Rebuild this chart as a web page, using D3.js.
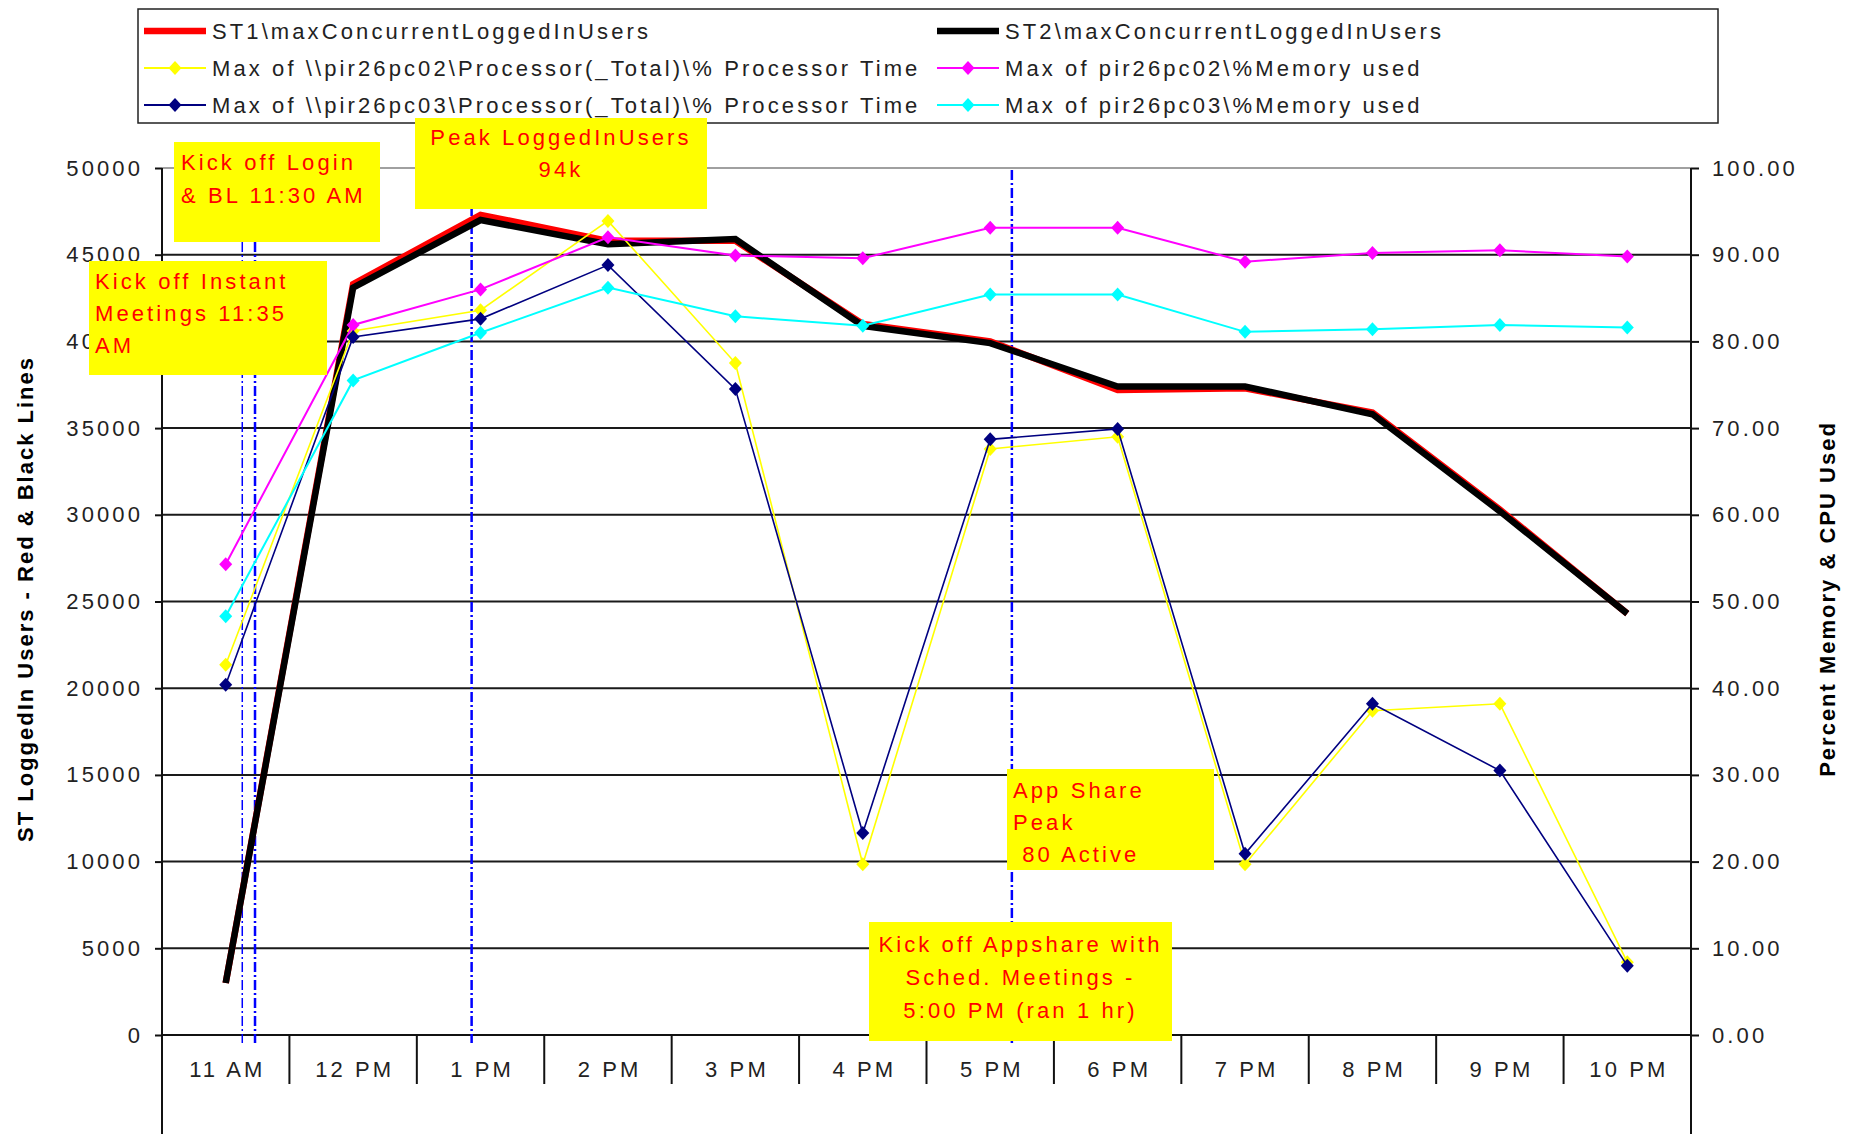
<!DOCTYPE html>
<html>
<head>
<meta charset="utf-8">
<script src="https://cdn.jsdelivr.net/npm/d3@7"></script>
<style>
  html, body { margin: 0; padding: 0; background: #fff; }
  svg { display: block; }
  text { font-family: "Liberation Sans", Arial, sans-serif; }
</style>
</head>
<body>
<svg id="chart" width="1852" height="1134"></svg>
<script>
// Hourly categories
const hours = ["11 AM", "12 PM", "1 PM", "2 PM", "3 PM", "4 PM", "5 PM", "6 PM", "7 PM", "8 PM", "9 PM", "10 PM"];

// Concurrent logged-in users (left axis)
const st1Users = [3000, 43300, 47300, 45800, 45800, 41000, 40000, 37200, 37300, 35900, 30300, 24300];
const st2Users = [3000, 43100, 47000, 45600, 45900, 40900, 39900, 37400, 37400, 35800, 30200, 24300];

// Percent CPU / memory (right axis)
const pc02Cpu = [42.7, 81.2, 83.6, 93.9, 77.5, 19.7, 67.6, 69.0, 19.7, 37.4, 38.2, 8.4];
const pc02Mem = [54.3, 81.9, 86.0, 92.0, 89.9, 89.6, 93.1, 93.1, 89.2, 90.2, 90.5, 89.8];
const pc03Cpu = [40.4, 80.5, 82.6, 88.8, 74.5, 23.3, 68.7, 69.9, 20.9, 38.2, 30.5, 8.0];
const pc03Mem = [48.3, 75.5, 81.0, 86.2, 82.9, 81.8, 85.4, 85.4, 81.1, 81.4, 81.9, 81.6];

// Axis ticks
const leftTicks = [0, 5000, 10000, 15000, 20000, 25000, 30000, 35000, 40000, 45000, 50000];
const rightTicks = [0, 10, 20, 30, 40, 50, 60, 70, 80, 90, 100];

// Series names
const seriesNames = [
  "ST1\\maxConcurrentLoggedInUsers",
  "ST2\\maxConcurrentLoggedInUsers",
  "Max of \\\\pir26pc02\\Processor(_Total)\\% Processor Time",
  "Max of pir26pc02\\%Memory used",
  "Max of \\\\pir26pc03\\Processor(_Total)\\% Processor Time",
  "Max of pir26pc03\\%Memory used"
];

// Event annotations (times expressed in category units from the left edge)
const eventTimes = [0.63, 0.73, 2.43, 6.67];
const noteLogin = ["Kick off Login", "& BL 11:30 AM"];
const notePeak = ["Peak LoggedInUsers", "94k"];
const noteInstant = ["Kick off Instant", "Meetings 11:35", "AM"];
const noteAppPeak = ["App Share", "Peak", " 80 Active"];
const noteAppKick = ["Kick off Appshare with", "Sched. Meetings -", "5:00 PM (ran 1 hr)"];

// ---------------------------------------------------------------
const svg = d3.select("#chart");
const L = 162, R = 1691, T = 168, B = 1035;

const x = d3.scaleBand().domain(hours).range([L, R]).paddingInner(0).paddingOuter(0);
const xUnit = d3.scaleLinear().domain([0, hours.length]).range([L, R]);
const yL = d3.scaleLinear().domain([0, 50000]).range([B, T]);
const yR = d3.scaleLinear().domain([0, 100]).range([B, T]);
const cx = h => x(h) + x.bandwidth() / 2;

const FONT = 22, SPACING = 3.1;

svg.append("rect").attr("width", 1852).attr("height", 1134).attr("fill", "#fff");

// Horizontal gridlines
svg.append("g").selectAll("line").data(leftTicks.filter(t => t > 0)).join("line")
  .attr("x1", L).attr("x2", R)
  .attr("y1", d => yL(d)).attr("y2", d => yL(d))
  .attr("stroke", d => d === 50000 ? "#a0a0a0" : "#1a1a1a")
  .attr("stroke-width", 2);

// Left axis
const axL = svg.append("g").attr("transform", `translate(${L},0)`)
  .call(d3.axisLeft(yL).tickValues(leftTicks).tickSize(7).tickPadding(12).tickFormat(d3.format("d")));
axL.select(".domain").remove();
axL.selectAll(".tick line").attr("stroke", "#111").attr("stroke-width", 2);
axL.selectAll(".tick text").attr("font-size", FONT).attr("letter-spacing", SPACING)
  .attr("fill", "#222").attr("font-family", "Liberation Sans, Arial, sans-serif");

// Right axis
const axR = svg.append("g").attr("transform", `translate(${R},0)`)
  .call(d3.axisRight(yR).tickValues(rightTicks).tickSize(8).tickPadding(13).tickFormat(d3.format(".2f")));
axR.select(".domain").remove();
axR.selectAll(".tick line").attr("stroke", "#111").attr("stroke-width", 2);
axR.selectAll(".tick text").attr("font-size", FONT).attr("letter-spacing", SPACING)
  .attr("fill", "#222").attr("font-family", "Liberation Sans, Arial, sans-serif");

// Vertical axis lines run to the bottom of the frame
svg.append("line").attr("x1", L).attr("x2", L).attr("y1", T).attr("y2", 1134)
  .attr("stroke", "#111").attr("stroke-width", 2);
svg.append("line").attr("x1", R).attr("x2", R).attr("y1", T).attr("y2", 1134)
  .attr("stroke", "#111").attr("stroke-width", 2);

// Category axis along the zero line
svg.append("line").attr("x1", L).attr("x2", R).attr("y1", B).attr("y2", B)
  .attr("stroke", "#111").attr("stroke-width", 2);
svg.append("g").selectAll("line").data(hours.slice(1)).join("line")
  .attr("x1", d => x(d)).attr("x2", d => x(d))
  .attr("y1", B).attr("y2", B + 49)
  .attr("stroke", "#111").attr("stroke-width", 2);
const axB = svg.append("g").attr("transform", `translate(0,${B})`)
  .call(d3.axisBottom(x).tickSize(0).tickPadding(26));
axB.select(".domain").remove();
axB.selectAll(".tick text").attr("font-size", FONT).attr("letter-spacing", SPACING)
  .attr("fill", "#222").attr("font-family", "Liberation Sans, Arial, sans-serif")
  .attr("dx", SPACING / 2);

// Event marker lines
svg.append("g").selectAll("line").data(eventTimes).join("line")
  .attr("x1", d => xUnit(d)).attr("x2", d => xUnit(d))
  .attr("y1", T + 2).attr("y2", B + 8)
  .attr("stroke", "#0000ff")
  .attr("stroke-width", (d, i) => i === 0 ? 1.5 : 2.5)
  .attr("stroke-dasharray", "10,3,2,3");

// Series lines
const lineL = d3.line().x((d, i) => cx(hours[i])).y(d => yL(d));
const lineR = d3.line().x((d, i) => cx(hours[i])).y(d => yR(d));

svg.append("path").datum(st1Users).attr("d", lineL)
  .attr("fill", "none").attr("stroke", "#ff0000").attr("stroke-width", 6.5).attr("stroke-linejoin", "miter");
svg.append("path").datum(st2Users).attr("d", lineL)
  .attr("fill", "none").attr("stroke", "#000").attr("stroke-width", 6.5).attr("stroke-linejoin", "miter");

const diamond = "M0,-7L6.5,0L0,7L-6.5,0Z";
const pctSeries = [
  { values: pc02Cpu, color: "#ffff00", width: 1.6 },
  { values: pc02Mem, color: "#ff00ff", width: 2 },
  { values: pc03Cpu, color: "#000080", width: 1.6 },
  { values: pc03Mem, color: "#00ffff", width: 2 }
];
pctSeries.forEach(s => {
  const g = svg.append("g");
  g.append("path").datum(s.values).attr("d", lineR)
    .attr("fill", "none").attr("stroke", s.color).attr("stroke-width", s.width);
  g.selectAll("path.m").data(s.values).join("path").attr("class", "m")
    .attr("d", diamond)
    .attr("transform", (d, i) => `translate(${cx(hours[i])},${yR(d)})`)
    .attr("fill", s.color);
});

// Axis titles
svg.append("text")
  .attr("transform", "translate(33,599) rotate(-90)")
  .attr("text-anchor", "middle").attr("font-weight", "bold")
  .attr("font-size", FONT).attr("letter-spacing", 2).attr("fill", "#000")
  .text("ST LoggedIn Users - Red & Black Lines");
svg.append("text")
  .attr("transform", "translate(1835,599) rotate(-90)")
  .attr("text-anchor", "middle").attr("font-weight", "bold")
  .attr("font-size", FONT).attr("letter-spacing", 2).attr("fill", "#000")
  .text("Percent Memory & CPU Used");

// Legend
const leg = svg.append("g");
leg.append("rect").attr("x", 138).attr("y", 9).attr("width", 1580).attr("height", 114)
  .attr("fill", "#fff").attr("stroke", "#222").attr("stroke-width", 1.5);
const legItems = [
  { name: seriesNames[0], color: "#ff0000", thick: true, col: 0, row: 0 },
  { name: seriesNames[1], color: "#000000", thick: true, col: 1, row: 0 },
  { name: seriesNames[2], color: "#ffff00", thick: false, col: 0, row: 1 },
  { name: seriesNames[3], color: "#ff00ff", thick: false, col: 1, row: 1 },
  { name: seriesNames[4], color: "#000080", thick: false, col: 0, row: 2 },
  { name: seriesNames[5], color: "#00ffff", thick: false, col: 1, row: 2 }
];
const colX = [144, 937], rowY = [31, 68, 105];
legItems.forEach(it => {
  const x0 = colX[it.col], y0 = rowY[it.row];
  leg.append("line").attr("x1", x0).attr("x2", x0 + 62).attr("y1", y0).attr("y2", y0)
    .attr("stroke", it.color).attr("stroke-width", it.thick ? 6.5 : 2);
  if (!it.thick) {
    leg.append("path").attr("d", diamond).attr("transform", `translate(${x0 + 31},${y0})`).attr("fill", it.color);
  }
  leg.append("text").attr("x", x0 + 68).attr("y", y0 + 8)
    .attr("font-size", FONT).attr("letter-spacing", SPACING).attr("fill", "#222")
    .text(it.name);
});

// Annotation callouts
function callout(x0, y0, w, h, lines, opts) {
  const g = svg.append("g");
  g.append("rect").attr("x", x0).attr("y", y0).attr("width", w).attr("height", h).attr("fill", "#ffff00");
  const t = g.append("text").attr("font-size", FONT).attr("letter-spacing", SPACING)
    .attr("fill", "#ff0000").attr("xml:space", "preserve").style("white-space", "pre")
    .attr("text-anchor", opts.center ? "middle" : "start");
  lines.forEach((ln, i) => {
    t.append("tspan")
      .attr("x", opts.center ? x0 + w / 2 : x0 + opts.pad)
      .attr("y", y0 + opts.first + i * opts.step)
      .text(ln);
  });
}
callout(174, 142, 206, 100, noteLogin, { pad: 7, first: 28, step: 33 });
callout(415, 118, 292, 91, notePeak, { center: true, first: 27, step: 32 });
callout(89, 261, 238, 114, noteInstant, { pad: 6, first: 28, step: 32 });
callout(1007, 769, 207, 101, noteAppPeak, { pad: 6, first: 29, step: 32 });
callout(869, 922, 303, 119, noteAppKick, { center: true, first: 30, step: 33 });
</script>
</body>
</html>
